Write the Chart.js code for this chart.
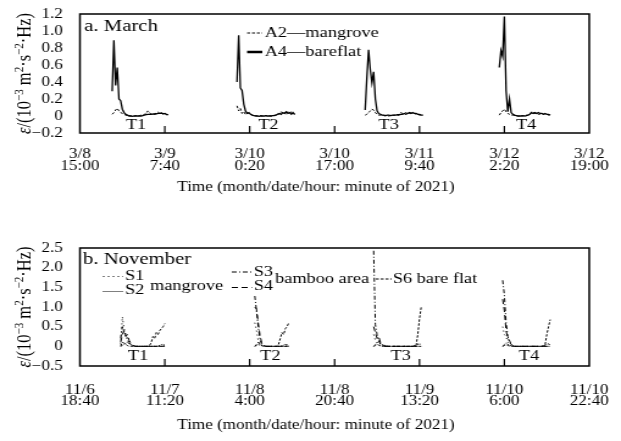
<!DOCTYPE html>
<html>
<head>
<meta charset="utf-8">
<script src="https://cdn.jsdelivr.net/npm/chart.js@4.4.1/dist/chart.umd.min.js"></script>
<style>
  html, body { margin: 0; padding: 0; background: #fff; }
  #wrap { position: relative; width: 621px; height: 441px; overflow: hidden; }
  canvas { position: absolute; left: 0; transform-origin: 0 0; transform: scaleX(1.22); }
  #march { top: 0; }
  #nov { top: 210px; }
</style>
</head>
<body>
<div id="wrap">
  <canvas id="march" width="509" height="210"></canvas>
  <canvas id="nov" width="509" height="231"></canvas>
</div>
<script>
const SERIF = '"Liberation Serif", "Times New Roman", serif';

// x axis: minutes after the first tick label
const timeTicks = [0, 1000, 2000, 3000, 4000, 5000, 6000];
const marchTickLabels = [['3/8', '15:00'], ['3/9', '7:40'], ['3/10', '0:20'], ['3/10', '17:00'], ['3/11', '9:40'], ['3/12', '2:20'], ['3/12', '19:00']];
const novTickLabels = [['11/6', '18:40'], ['11/7', '11:20'], ['11/8', '4:00'], ['11/8', '20:40'], ['11/9', '13:20'], ['11/10', '6:00'], ['11/10', '22:40']];
const sampleStep = 20; // minutes between samples

const yTicksMarch = [-0.2, 0, 0.2, 0.4, 0.6, 0.8, 1.0, 1.2];
const yLabelsMarch = ['−0.2', '0', '0.2', '0.4', '0.6', '0.8', '1.0', '1.2'];
const yTicksNov = [-0.5, 0, 0.5, 1.0, 1.5, 2.0, 2.5];
const yLabelsNov = ['−0.5', '0', '0.5', '1.0', '1.5', '2.0', '2.5'];

// March: start minute of each tide (T1..T4)
const marchStarts = [380, 1850, 3360, 4940];
// A4 bare flat
const a4 = [
  [0.29, 0.89, 0.36, 0.57, 0.20, 0.18, 0.08, 0.04, 0.02, 0.01, 0.00, 0.00, -0.005, 0, 0, 0, 0, 0, 0.005, 0.01, 0.015, 0.02, 0.02, 0.02, 0.025, 0.02, 0.025, 0.03, 0.03, 0.035, 0.025, 0.03, 0.02, 0.015],
  [0.40, 0.95, 0.33, 0.30, 0.14, 0.06, 0.03, 0.04, 0.02, 0.01, 0.005, 0, 0, -0.005, 0, 0, 0, 0.005, 0, 0, 0, 0.005, 0.005, 0.01, 0.02, 0.03, 0.02, 0.04, 0.03, 0.05, 0.03, 0.04, 0.02, 0.04, 0.02],
  [0.07, 0.45, 0.78, 0.55, 0.39, 0.52, 0.20, 0.06, 0.03, 0.02, 0.01, 0.01, 0.005, 0.01, 0.01, 0.005, 0.01, 0.01, 0.01, 0.015, 0.015, 0.02, 0.02, 0.03, 0.02, 0.03, 0.04, 0.03, 0.04, 0.03, 0.03, 0.02, 0.02, 0.01, 0.01],
  [0.57, 0.77, 0.70, 1.17, 0.30, 0.05, 0.20, 0.04, 0.02, 0.01, 0.005, 0, 0, 0, 0.005, 0, 0.005, 0.01, 0.02, 0.04, 0.03, 0.04, 0.03, 0.04, 0.03, 0.03, 0.02, 0.03, 0.02, 0.02, 0.01]
];
// A2 mangrove
const a2 = [
  [0.02, 0.04, 0.07, 0.09, 0.06, 0.04, 0.03, 0.02, 0.01, 0.005, 0.005, 0, 0, 0, 0.005, 0, 0.005, 0.01, 0.01, 0.02, 0.03, 0.06, 0.04, 0.02, 0.02, 0.03, 0.03, 0.045, 0.03, 0.04, 0.02, 0.03, 0.015, 0.01],
  [0.12, 0.06, 0.09, 0.03, 0.05, 0.02, 0.04, 0.03, 0.02, 0.01, 0.005, 0.005, 0, 0, 0.005, 0, 0, 0.005, 0, 0.005, 0, 0.005, 0.01, 0.01, 0.03, 0.02, 0.05, 0.03, 0.04, 0.02, 0.05, 0.03, 0.05, 0.03, 0.02],
  [0.01, 0.02, 0.04, 0.06, 0.08, 0.07, 0.04, 0.02, 0.01, 0.01, 0.005, 0.005, 0, 0.005, 0, 0.005, 0.005, 0.01, 0.01, 0.01, 0.01, 0.04, 0.03, 0.03, 0.04, 0.03, 0.03, 0.04, 0.03, 0.03, 0.02, 0.02, 0.01, 0.01, 0.01],
  [0.01, 0.04, 0.06, 0.08, 0.05, 0.03, 0.02, 0.01, 0.01, 0.005, 0.005, 0, 0, 0.005, 0, 0.005, 0.01, 0.01, 0.02, 0.05, 0.04, 0.03, 0.03, 0.02, 0.02, 0.03, 0.02, 0.02, 0.02, 0.01, 0.01]
];

// November: start minute of each tide (T1..T4)
const novStarts = [480, 2060, 3460, 4980];
const s1 = [
  [0.05, 0.75, 0.45, 0.30, 0.20, 0.10, 0.05, 0.02, 0.01, 0, 0, 0, 0, 0, 0, 0, 0, 0, 0, 0, 0, 0, 0.01, 0.02, 0.05, 0.03, 0.02],
  [0.60, 0.40, 0.15, 0.05, 0.02, 0.01, 0, 0, 0, 0, 0, 0, 0, 0, 0, 0, 0.01, 0.02, 0.04, 0.03, 0.02],
  [0.30, 0.15, 0.10, 0.05, 0.02, 0.01, 0, 0, 0, 0, 0, 0, 0, 0, 0, 0, 0, 0, 0, 0, 0, 0, 0, 0.01, 0.02, 0.04, 0.06, 0.04, 0.02],
  [0.50, 0.30, 0.25, 0.10, 0.05, 0.02, 0.01, 0, 0, 0, 0, 0, 0, 0, 0, 0, 0, 0, 0, 0, 0, 0, 0, 0.01, 0.02, 0.03, 0.05, 0.06, 0.04]
];
const s2 = [
  [0, 0.02, 0.05, 0.08, 0.10, 0.06, 0.03, 0.01, 0, 0, 0, 0, 0, 0, 0, 0, 0, 0, 0, 0, 0, 0, 0.01, 0.02, 0.04, 0.05, 0.03],
  [0, 0.02, 0.05, 0.03, 0.02, 0.01, 0, 0, 0, 0, 0, 0, 0, 0, 0, 0, 0.01, 0.03, 0.05, 0.04, 0.02],
  [0, 0.05, 0.10, 0.12, 0.08, 0.05, 0.03, 0.02, 0.01, 0, 0, 0, 0, 0, 0, 0, 0, 0, 0, 0, 0, 0, 0, 0, 0.01, 0.03, 0.05, 0.07, 0.04],
  [0, 0.05, 0.08, 0.05, 0.03, 0.01, 0, 0, 0, 0, 0, 0, 0, 0, 0, 0, 0, 0, 0, 0, 0, 0, 0, 0, 0.01, 0.03, 0.05, 0.06, 0.03]
];
const s3 = [
  [0.20, 0.50, 0.35, 0.30, 0.15, 0.10, 0.05, 0.02, 0.01, 0, 0, 0, 0, 0, 0, 0, 0, 0, 0, 0, 0, 0, 0, 0, 0, 0, 0],
  [1.28, 0.90, 0.50, 0.20, 0.05, 0.02, 0.01, 0, 0, 0, 0, 0, 0, 0, 0, 0, 0, 0, 0, 0, 0],
  [2.43, 0.55, 0.30, 0.15, 0.05, 0.02, 0.01, 0, 0, 0, 0, 0, 0, 0, 0, 0, 0, 0, 0, 0, 0, 0, 0, 0, 0, 0, 0, 0, 0],
  [1.68, 1.30, 0.60, 0.25, 0.10, 0.05, 0.02, 0, 0, 0, 0, 0, 0, 0, 0, 0, 0, 0, 0, 0, 0, 0, 0, 0, 0, 0, 0, 0, 0]
];
const s4 = [
  [0.10, 0.30, 0.40, 0.25, 0.30, 0.15, 0.08, 0.03, 0.01, 0, 0, 0, 0, 0, 0, 0, 0, 0, 0, 0, 0, 0, 0, 0, 0, 0, 0],
  [1.00, 0.95, 0.60, 0.30, 0.10, 0.03, 0.01, 0, 0, 0, 0, 0, 0, 0, 0, 0, 0, 0, 0, 0, 0],
  [0.50, 0.35, 0.20, 0.25, 0.10, 0.05, 0.02, 0, 0, 0, 0, 0, 0, 0, 0, 0, 0, 0, 0, 0, 0, 0, 0, 0, 0, 0, 0, 0, 0],
  [1.20, 0.90, 0.40, 0.20, 0.15, 0.05, 0.02, 0, 0, 0, 0, 0, 0, 0, 0, 0, 0, 0, 0, 0, 0, 0, 0, 0, 0, 0, 0, 0, 0]
];
const s6 = [
  [0, 0.10, 0.08, 0.05, 0.02, 0, 0, 0, 0, 0, 0, 0, 0, 0, 0, 0, 0, 0.02, 0.10, 0.25, 0.20, 0.35, 0.30, 0.40, 0.45, 0.50, 0.58],
  [0, 0.05, 0.10, 0.05, 0.02, 0, 0, 0, 0, 0, 0, 0, 0, 0, 0.05, 0.20, 0.35, 0.30, 0.45, 0.50, 0.60],
  [0, 0.02, 0.05, 0.03, 0.01, 0, 0, 0, 0, 0, 0, 0, 0, 0, 0, 0, 0, 0, 0, 0, 0, 0, 0, 0, 0, 0.02, 0.30, 0.70, 1.00],
  [0, 0.02, 0.04, 0.02, 0.01, 0, 0, 0, 0, 0, 0, 0, 0, 0, 0, 0, 0, 0, 0, 0, 0, 0, 0, 0, 0.02, 0.05, 0.30, 0.50, 0.68]
];

// join the four tides into one line, with a gap between them
function toPoints(segments, starts) {
  const pts = [];
  segments.forEach((seg, k) => {
    seg.forEach((v, i) => pts.push({ x: starts[k] + i * sampleStep, y: v }));
    pts.push({ x: starts[k] + seg.length * sampleStep, y: null });
  });
  return pts;
}

function line(segments, starts, width, dash) {
  return { data: toPoints(segments, starts), borderColor: '#000', borderWidth: width, borderDash: dash, spanGaps: false };
}

function text(ctx, str, x, y, size, align) {
  ctx.font = size + 'px ' + SERIF;
  ctx.textAlign = align || 'left';
  ctx.textBaseline = 'middle';
  ctx.fillStyle = '#000';
  ctx.fillText(str, x, y);
}

// box, inward time ticks and tick labels (placed with the chart's scales)
const framePlugin = {
  id: 'frame',
  afterDatasetsDraw(chart) {
    const { ctx, chartArea: a, scales: { x, y } } = chart;
    const t = chart.options.tickText;
    ctx.save();
    ctx.strokeStyle = '#000';
    ctx.lineWidth = 1.5;
    ctx.strokeRect(a.left, a.top, a.right - a.left, a.bottom - a.top);
    ctx.lineWidth = 1.2;
    timeTicks.slice(1, -1).forEach(v => {
      const px = x.getPixelForValue(v);
      ctx.beginPath();
      ctx.moveTo(px, a.bottom);
      ctx.lineTo(px, a.bottom - 7);
      ctx.stroke();
    });
    t.yValues.forEach((v, i) => text(ctx, t.yLabels[i], a.left - 14, y.getPixelForValue(v), 14, 'right'));
    timeTicks.forEach((v, i) => {
      const px = x.getPixelForValue(v);
      text(ctx, t.xLabels[i][0], px, a.bottom + t.xOffset, 14, 'center');
      text(ctx, t.xLabels[i][1], px, a.bottom + t.xOffset + t.xGap, 14, 'center');
    });
    ctx.restore();
  }
};

function legendLine(ctx, x1, x2, y, width, dash) {
  ctx.save();
  ctx.strokeStyle = '#000';
  ctx.lineWidth = width;
  ctx.setLineDash(dash);
  ctx.beginPath();
  ctx.moveTo(x1, y);
  ctx.lineTo(x2, y);
  ctx.stroke();
  ctx.restore();
}

const yTitleParts = [['ε', 'italic ', 16.5, 0], ['/(10', '', 16.5, 0], ['−3', '', 11, -6], [' m', '', 16.5, 0], ['2', '', 11, -6], ['·s', '', 16.5, 0], ['−2', '', 11, -6], ['·Hz)', '', 16.5, 0]];

function drawYTitle(chart) {
  const { ctx, chartArea: a } = chart;
  ctx.save();
  ctx.translate(25, (a.top + a.bottom) / 2);
  ctx.rotate(-Math.PI / 2);
  ctx.textBaseline = 'alphabetic';
  ctx.textAlign = 'left';
  ctx.fillStyle = '#000';
  let total = 0;
  yTitleParts.forEach(p => { ctx.font = p[1] + p[2] + 'px ' + SERIF; total += ctx.measureText(p[0]).width; });
  let pos = -total / 2;
  yTitleParts.forEach(p => {
    ctx.font = p[1] + p[2] + 'px ' + SERIF;
    ctx.fillText(p[0], pos, p[3]);
    pos += ctx.measureText(p[0]).width;
  });
  ctx.restore();
}

const marchNotes = {
  id: 'marchNotes',
  afterDraw(chart) {
    const { ctx, scales: { x, y } } = chart;
    drawYTitle(chart);
    text(ctx, 'a. March', 69, 27, 17);
    legendLine(ctx, 202.5, 215, 33, 1, [2.5, 1.5]);
    text(ctx, 'A2—mangrove', 217, 33, 15);
    legendLine(ctx, 202.5, 215, 52, 2.5, []);
    text(ctx, 'A4—bareflat', 217, 52, 15);
    [['T1', 661], ['T2', 2220], ['T3', 3638], ['T4', 5256]].forEach(t => text(ctx, t[0], x.getPixelForValue(t[1]), y.getPixelForValue(-0.106), 15, 'center'));
    text(ctx, 'Time (month/date/hour: minute of 2021)', 259, 187, 14, 'center');
  }
};

const novNotes = {
  id: 'novNotes',
  afterDraw(chart) {
    const { ctx, scales: { x, y } } = chart;
    drawYTitle(chart);
    text(ctx, 'b. November', 68, 50, 17);
    legendLine(ctx, 84.5, 101, 66.5, 1, [1, 3]);
    text(ctx, 'S1', 102.5, 66, 15);
    legendLine(ctx, 84.5, 101, 81.5, 1, [1, 1]);
    text(ctx, 'S2', 102.5, 80, 15);
    text(ctx, 'mangrove', 123, 76, 15);
    legendLine(ctx, 190, 206.5, 62, 1, [4, 2, 1, 2]);
    text(ctx, 'S3', 208, 62, 15);
    legendLine(ctx, 190, 206.5, 77.5, 1, [5, 3]);
    text(ctx, 'S4', 208, 76.5, 15);
    text(ctx, 'bamboo area', 225.5, 69, 15);
    legendLine(ctx, 308, 321, 69, 1, [2.5, 1.5]);
    text(ctx, 'S6 bare flat', 322, 69, 15);
    [['T1', 685], ['T2', 2244], ['T3', 3780], ['T4', 5291]].forEach(t => text(ctx, t[0], x.getPixelForValue(t[1]), y.getPixelForValue(-0.26), 15, 'center'));
    text(ctx, 'Time (month/date/hour: minute of 2021)', 259, 215, 14, 'center');
  }
};

function makeChart(id, cfg) {
  return new Chart(document.getElementById(id), {
    type: 'line',
    data: { datasets: cfg.datasets },
    options: {
      responsive: false,
      animation: false,
      tickText: { xLabels: cfg.xLabels, xOffset: cfg.xOffset, xGap: cfg.xGap, yValues: cfg.yTicks, yLabels: cfg.yLabels },
      layout: { padding: { top: cfg.top, right: 26, left: 0, bottom: 0 } },
      elements: { point: { radius: 0 }, line: { tension: 0, fill: false } },
      plugins: { legend: { display: false }, tooltip: { enabled: false } },
      scales: {
        x: {
          type: 'linear', min: 0, max: 6000,
          afterBuildTicks: s => { s.ticks = timeTicks.map(v => ({ value: v })); },
          afterFit: s => { s.height = cfg.xHeight; },
          ticks: { display: false },
          grid: { display: false },
          border: { display: false }
        },
        y: {
          min: cfg.yTicks[0], max: cfg.yTicks[cfg.yTicks.length - 1],
          afterBuildTicks: s => { s.ticks = cfg.yTicks.map(v => ({ value: v })); },
          afterFit: s => { s.width = 65.5; },
          ticks: { display: false },
          grid: { display: false },
          border: { display: false }
        }
      }
    },
    plugins: [framePlugin, cfg.notes]
  });
}

makeChart('march', {
  top: 14, xHeight: 77, xOffset: 21, xGap: 12,
  xLabels: marchTickLabels, yTicks: yTicksMarch, yLabels: yLabelsMarch,
  notes: marchNotes,
  datasets: [
    line(a2, marchStarts, 1, [2.5, 1.5]),
    line(a4, marchStarts, 1.3, [])
  ]
});

makeChart('nov', {
  top: 38, xHeight: 75, xOffset: 24, xGap: 11.7,
  xLabels: novTickLabels, yTicks: yTicksNov, yLabels: yLabelsNov,
  notes: novNotes,
  datasets: [
    line(s1, novStarts, 1, [1, 3]),
    line(s2, novStarts, 1, [1, 1]),
    line(s3, novStarts, 1, [4, 2, 1, 2]),
    line(s4, novStarts, 1, [5, 3]),
    line(s6, novStarts, 1, [2.5, 1.5])
  ]
});
</script>
</body>
</html>
